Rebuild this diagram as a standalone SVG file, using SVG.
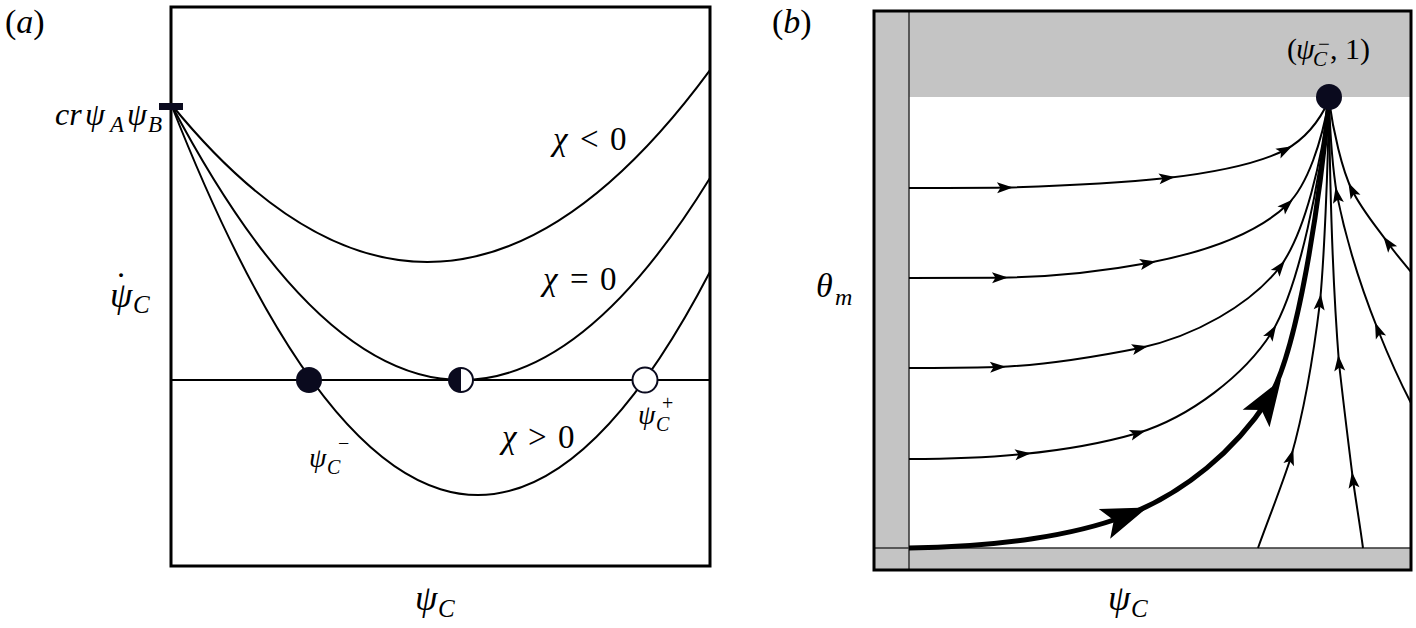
<svg xmlns="http://www.w3.org/2000/svg" width="1416" height="628" viewBox="0 0 1416 628">
<style>
.t{font-family:"Liberation Serif","Times New Roman",serif;fill:#000}
.i{font-style:italic}
.u{font-style:normal}
.box{fill:none;stroke:#000;stroke-width:3}
.cv{fill:none;stroke:#000;stroke-width:2}
.fl{fill:none;stroke:#000;stroke-width:2;marker-mid:url(#arr)}
.thick{fill:none;stroke:#000;stroke-width:5;marker-mid:url(#big)}
.gray{fill:#c4c4c4}
.thin{stroke:#333;stroke-width:1.5;fill:none}
.dark{fill:#0a0a1e}
</style>
<defs>
<marker id="arr" markerUnits="userSpaceOnUse" markerWidth="20" markerHeight="14" viewBox="-10 -7 20 14" refX="0" refY="0" orient="auto"><path d="M8,0 L-8,-5.5 L-4.5,0 L-8,5.5 Z" fill="#000"/></marker>
<marker id="big" markerUnits="userSpaceOnUse" markerWidth="54" markerHeight="36" viewBox="-27 -18 54 36" refX="0" refY="0" orient="auto"><path d="M24,0 L-22,-16 L-12,0 L-22,16 Z" fill="#000"/></marker>
</defs>
<rect width="1416" height="628" fill="#fff"/>

<!-- Panel (a) -->
<g id="panel-a">
<rect class="box" x="171" y="7" width="539" height="559"/>
<text class="t" x="5" y="33" font-size="34">(<tspan class="i">a</tspan>)</text>
</g>
<g id="connectors-a">
<path class="cv" d="M171,380 H710"/>
<path id="curve-neg" class="cv" d="M171,104 Q440.5,436.1 710,70.1"/>
<path id="curve-zero" class="cv" d="M171,104 Q440.5,616.2 710,178"/>
<path id="curve-pos" class="cv" d="M171,104 Q440.5,790.5 710,271.7"/>
</g>
<g id="node-start">
<rect class="dark" x="159" y="103" width="24" height="7"/>
<text class="t i" font-size="32" y="125"><tspan x="55">cr</tspan><tspan x="85">ψ</tspan><tspan x="110" y="132" font-size="23">A</tspan><tspan x="127" y="125">ψ</tspan><tspan x="148" y="132" font-size="23">B</tspan></text>
</g>
<g id="label-ydot">
<text class="t" font-size="36" x="121" y="297" text-anchor="middle">˙</text>
<text class="t i" font-size="36" y="307"><tspan x="110">ψ</tspan><tspan x="133" y="313" font-size="25">C</tspan></text>
</g>
<g id="label-chi">
<text class="t" font-size="33" y="150"><tspan class="i" x="553">χ</tspan><tspan x="580">&lt;</tspan><tspan x="610">0</tspan></text>
<text class="t" font-size="33" y="290"><tspan class="i" x="543">χ</tspan><tspan x="570">=</tspan><tspan x="600">0</tspan></text>
<text class="t" font-size="33" y="448"><tspan class="i" x="502">χ</tspan><tspan x="528">&gt;</tspan><tspan x="558">0</tspan></text>
</g>
<g id="node-minus">
<circle class="dark" cx="309" cy="380" r="13"/>
<text class="t i" font-size="28" y="467"><tspan x="309">ψ</tspan><tspan x="327" y="474" font-size="20">C</tspan><tspan class="u" x="338" y="450" font-size="20">−</tspan></text>
</g>
<g id="node-half">
<circle cx="461" cy="380" r="12" fill="#fff" stroke="#0a0a1e" stroke-width="2"/>
<path class="dark" d="M461,368 A12,12 0 0 0 461,392 Z"/>
</g>
<g id="node-plus">
<circle cx="645" cy="380" r="12.5" fill="#fff" stroke="#0a0a1e" stroke-width="2"/>
<text class="t i" font-size="28" y="424"><tspan x="638">ψ</tspan><tspan x="656" y="431" font-size="20">C</tspan><tspan class="u" x="662" y="410" font-size="20">+</tspan></text>
</g>
<g id="label-xa">
<text class="t i" font-size="36" y="610"><tspan x="415">ψ</tspan><tspan x="438" y="617" font-size="25">C</tspan></text>
</g>

<!-- Panel (b) -->
<g id="panel-b">
<rect class="gray" x="874" y="11" width="537" height="86"/>
<rect class="gray" x="874" y="11" width="35" height="559"/>
<rect class="gray" x="874" y="548" width="537" height="22"/>
<path class="thin" d="M909,11 V570 M874,548 H1411"/>
<rect class="box" x="874" y="11" width="537" height="559"/>
<text class="t" x="772" y="33" font-size="34">(<tspan class="i">b</tspan>)</text>
</g>
<g id="connectors-b">
<path class="fl" d="M909,188 C960,188 990,188 1005,187.6 C1060,186 1120,183 1167,178 C1210,173 1255,165 1285,150 C1305,139 1320,120 1329,100"/>
<path class="fl" d="M909,278 C950,278 980,278 1000,277.7 C1050,277 1105,271 1148,263 C1200,253 1255,235 1287,205 C1308,185 1322,140 1329,100"/>
<path class="fl" d="M909,368 C950,368 978,367.5 998,367 C1050,365 1100,356 1140,348 C1195,336 1250,305 1280,267 C1305,233 1322,160 1329,100"/>
<path class="fl" d="M909,459 C960,459 995,457 1023,454 C1065,450 1100,444 1138,433 C1190,417 1245,375 1272,332 C1300,285 1320,180 1329,100"/>
<path class="thick" d="M909,548 C1000,547 1075,535 1125,516 C1185,493 1235,450 1268,400 C1298,352 1320,200 1329,100"/>
<path class="fl" d="M1258,548 C1270,515 1282,485 1291,457 C1303,415 1313,360 1320,302 C1324,260 1328,170 1329,100"/>
<path class="fl" d="M1363,548 C1360,525 1356,502 1353,480 C1348,440 1343,400 1339,363 C1334,300 1330,200 1329,100"/>
<path class="fl" d="M1411,403 C1399,380 1388,355 1378,330 C1360,285 1346,240 1337,195 C1332,165 1330,130 1329,100"/>
<path class="fl" d="M1411,272 C1403,262 1395,253 1388,243 C1375,225 1362,210 1352,190 C1342,170 1333,130 1329,100"/>
</g>
<g id="node-fixed">
<circle class="dark" cx="1329" cy="97" r="13"/>
<text class="t" font-size="30" y="59"><tspan x="1287">(</tspan><tspan class="i" x="1296">ψ</tspan><tspan class="i" x="1313" y="66" font-size="21">C</tspan><tspan x="1318" y="51" font-size="21">−</tspan><tspan x="1330" y="59">,</tspan><tspan x="1345">1)</tspan></text>
</g>
<g id="label-theta">
<text class="t i" font-size="34" y="297"><tspan x="816">θ</tspan><tspan x="835" y="305" font-size="24">m</tspan></text>
</g>
<g id="label-xb">
<text class="t i" font-size="36" y="610"><tspan x="1108">ψ</tspan><tspan x="1131" y="617" font-size="25">C</tspan></text>
</g>
</svg>
